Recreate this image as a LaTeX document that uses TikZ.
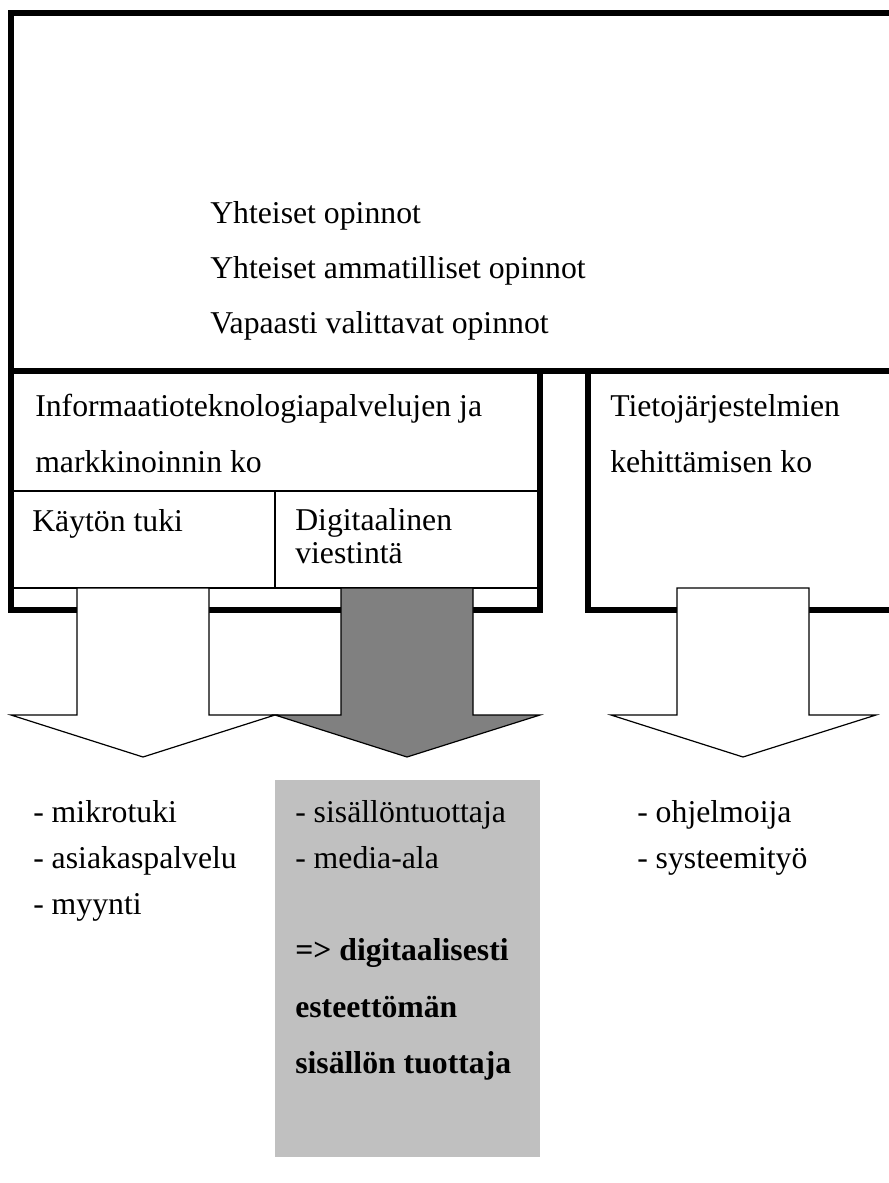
\documentclass[tikz,border=0pt]{standalone}
\usepackage{fontspec}
\setmainfont{Liberation Serif}
\begin{document}
\begin{tikzpicture}[x=0.75pt,y=-0.75pt,
  thickbox/.style={draw=black,line width=4.1pt},
  thinbox/.style={draw=black,fill=white,line width=0.9pt},
  blockarrow/.style={draw=black,line width=0.9pt,line join=miter},
  txt/.style={anchor=base west,inner sep=0pt,font=\fontsize{23.8}{28}\selectfont},
  btxt/.style={txt,font=\fontsize{23.8}{28}\selectfont\bfseries}]
\useasboundingbox (0,0) rectangle (889,1183);
\clip (0,0) rectangle (889,1183);
% top box
\draw[thickbox] (11,13) rectangle (910,371);
% middle boxes
\draw[thickbox] (11,371) rectangle (540,610);
\draw[thickbox] (588,371) rectangle (910,610);
% sub boxes
\draw[thinbox] (13,491) rectangle (275,588);
\draw[thinbox] (275,491) rectangle (538,588);
% block arrows
\draw[blockarrow,fill=white] (77,588) -- (209,588) -- (209,715) -- (275,715) -- (143,757) -- (11,715) -- (77,715) -- cycle;
\draw[blockarrow,fill=white] (677,588) -- (809,588) -- (809,715) -- (876,715) -- (743,757) -- (611,715) -- (677,715) -- cycle;
\draw[blockarrow,fill={rgb,255:red,128;green,128;blue,128}] (341,588) -- (473,588) -- (473,715) -- (540,715) -- (407,757) -- (275,715) -- (341,715) -- cycle;
% gray box
\fill[fill={rgb,255:red,192;green,192;blue,192}] (275,780) rectangle (540,1157);
% texts
\node[txt] (t1) at (210,223) {Yhteiset opinnot};
\node[txt] (t2) at (210,278) {Yhteiset ammatilliset opinnot};
\node[txt] (t3) at (210,333) {Vapaasti valittavat opinnot};
\node[txt] (l1) at (35,416) {Informaatioteknologiapalvelujen ja};
\node[txt] (l2) at (35,472) {markkinoinnin ko};
\node[txt] (r1) at (610,416) {Tietojärjestelmien};
\node[txt] (r2) at (610,472) {kehittämisen ko};
\node[txt] (s1) at (32,531) {Käytön tuki};
\node[txt] (s2) at (295,530) {Digitaalinen};
\node[txt] (s3) at (295,563) {viestintä};
\node[txt] (a1) at (33,822) {- mikrotuki};
\node[txt] (a2) at (33,868) {- asiakaspalvelu};
\node[txt] (a3) at (33,914) {- myynti};
\node[txt] (g1) at (295,822) {- sisällöntuottaja};
\node[txt] (g2) at (295,868) {- media-ala};
\node[btxt] (g3) at (295,960) {=> digitaalisesti};
\node[btxt] (g4) at (295,1017) {esteettömän};
\node[btxt] (g5) at (295,1073) {sisällön tuottaja};
\node[txt] (c1) at (637,822) {- ohjelmoija};
\node[txt] (c2) at (637,868) {- systeemityö};
\end{tikzpicture}
\end{document}
